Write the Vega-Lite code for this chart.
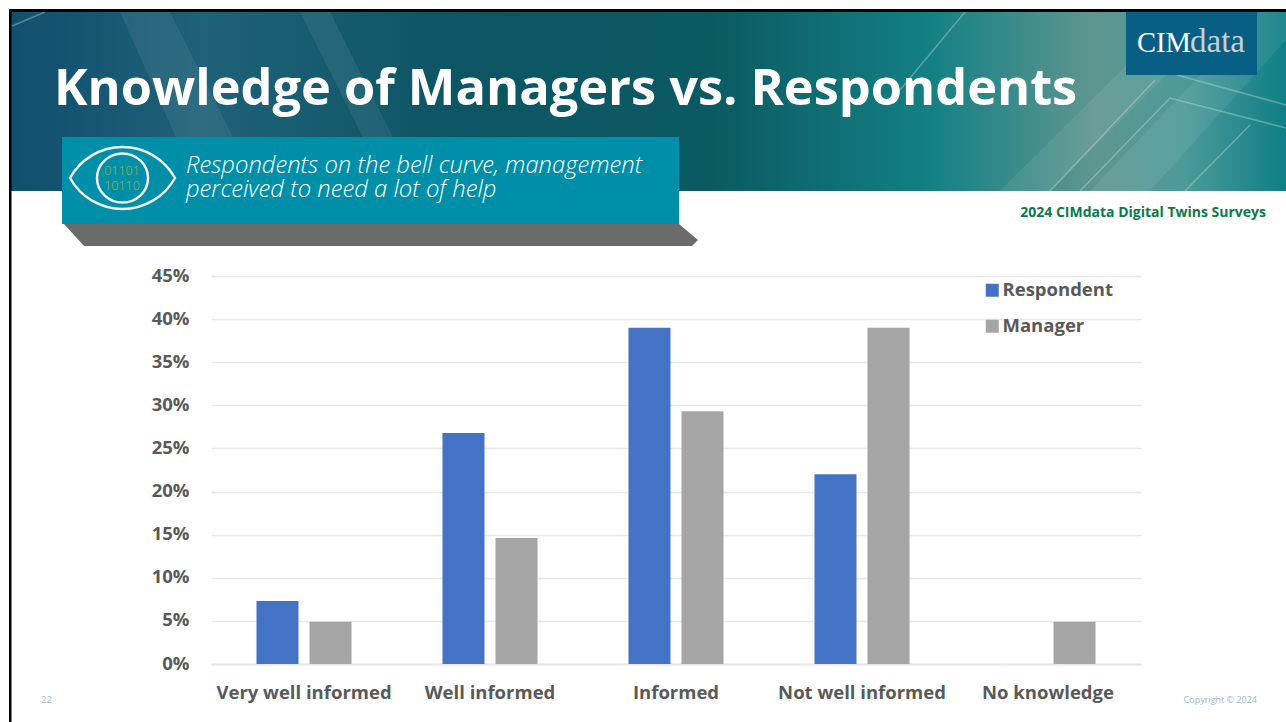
{
"$schema":"https://vega.github.io/schema/vega-lite/v6.json",
"width":930,"height":388,
"autosize":"none",
"padding":{"left":211,"top":276,"right":145,"bottom":58},
"background":"#ffffff",
"title":{"text":"Knowledge of Managers vs. Respondents","anchor":"start","frame":"group","dx":-157,"offset":-146,"baseline":"alphabetic","font":"Open Sans","fontSize":50.5,"fontWeight":700,"color":"#ffffff"},
"config":{"view":{"stroke":null},"font":"Open Sans"},
"layer":[
{"data":{"values":[{"part":"banner"}]},"mark":{"type":"point","filled":true,"opacity":1,"x":-211,"y":-276,"size":4,"shape":"M11,12H1286V191H11Z","fill":{"gradient":"linear","x1":0,"y1":0,"x2":1,"y2":0,"stops":[{"offset":0,"color":"#114f6e"},{"offset":0.15,"color":"#1f6178"},{"offset":0.35,"color":"#0c5564"},{"offset":0.55,"color":"#0b5a62"},{"offset":0.72,"color":"#138084"},{"offset":0.85,"color":"#5f968f"},{"offset":0.92,"color":"#4d9a9a"},{"offset":1,"color":"#0f7f86"}]}},"encoding":{}},
{"data":{"values":[{"part":"banner light bands"}]},"mark":{"type":"point","filled":true,"opacity":0.07,"x":-211,"y":-276,"size":4,"shape":"M1000,191L1180,12H1230L1050,191ZM1090,191L1260,12H1286V40L1150,191ZM120,12L200,191H260L170,12ZM300,12L390,191H420L330,12Z","fill":"#ffffff"},"encoding":{}},
{"data":{"values":[{"part":"banner lines"}]},"mark":{"type":"point","filled":false,"opacity":0.35,"x":-211,"y":-276,"size":4,"strokeWidth":1.5,"shape":"M1177,75L1286,105M1080,191L1170,98L1286,128M1050,191L1155,80M965,12L900,90M1185,191L1250,125M12,26L45,12","stroke":"#d8e8e4"},"encoding":{}},
{"data":{"values":[{"part":"border"}]},"mark":{"type":"point","filled":true,"opacity":1,"x":-211,"y":-276,"size":4,"shape":"M9,9H1286V12H11.5V722H9Z","fill":"#000000"},"encoding":{}},
{"data":{"values":[{"part":"logo box"}]},"mark":{"type":"point","filled":true,"opacity":1,"x":-211,"y":-276,"size":4,"shape":"M1126,12H1257V75H1126Z","fill":"#075f85"},"encoding":{}},
{"data":{"values":[{"part":"callout shadow"}]},"mark":{"type":"point","filled":true,"opacity":1,"x":-211,"y":-276,"size":4,"shape":"M64,224H679L698,240L692,246H84Z","fill":"#6b6b6b"},"encoding":{}},
{"data":{"values":[{"part":"callout"}]},"mark":{"type":"point","filled":true,"opacity":1,"x":-211,"y":-276,"size":4,"shape":"M62,137H679V224H62Z","fill":"#008fa8"},"encoding":{}},
{"data":{"values":[{"part":"eye"}]},"mark":{"type":"point","filled":false,"opacity":1,"x":-211,"y":-276,"size":4,"strokeWidth":2.5,"shape":"M70,178A60,60 0 0 1 175,178A60,60 0 0 1 70,178ZM97,178A25.5,24.5 0 1 1 148,178A25.5,24.5 0 1 1 97,178Z","stroke":"#f4f1ea"},"encoding":{}},
{"data":{"values":[{"label":"01101\n10110"}]},"mark":{"type":"text","x":-89,"y":-105,"align":"center","baseline":"middle","lineBreak":"\n","lineHeight":15,"font":"Open Sans","fontWeight":300,"fontSize":12.5,"color":"#a9b43c"},"encoding":{"text":{"field":"label"}}},
{"data":{"values":[{"label":"Respondents on the bell curve, management\nperceived to need a lot of help"}]},"mark":{"type":"text","x":-25,"y":-103,"align":"left","baseline":"alphabetic","lineBreak":"\n","lineHeight":24,"font":"Open Sans","fontStyle":"italic","fontWeight":300,"fontSize":23.8,"color":"#ffffff"},"encoding":{"text":{"field":"label"}}},
{"data":{"values":[{"label":"2024 CIMdata Digital Twins Surveys"}]},"mark":{"type":"text","x":1055,"y":-59,"align":"right","baseline":"alphabetic","font":"Open Sans","fontWeight":700,"fontSize":14,"color":"#0b7a4b"},"encoding":{"text":{"field":"label"}}},
{"data":{"values":[{"label":"CIM"}]},"mark":{"type":"text","x":926,"y":-224,"align":"left","baseline":"alphabetic","font":"Liberation Serif","fontSize":28.5,"color":"#ffffff"},"encoding":{"text":{"field":"label"}}},
{"data":{"values":[{"label":"data"}]},"mark":{"type":"text","x":979,"y":-224,"align":"left","baseline":"alphabetic","font":"Liberation Serif","fontSize":33,"color":"#c4d0d8"},"encoding":{"text":{"field":"label"}}},
{"data":{"values":[{"label":"22"}]},"mark":{"type":"text","x":-170,"y":427,"align":"left","baseline":"alphabetic","font":"Open Sans","fontWeight":400,"fontSize":9.5,"color":"#9db7cf"},"encoding":{"text":{"field":"label"}}},
{"data":{"values":[{"label":"Copyright © 2024"}]},"mark":{"type":"text","x":1046,"y":427,"align":"right","baseline":"alphabetic","font":"Open Sans","fontWeight":400,"fontSize":9,"color":"#9db7cf"},"encoding":{"text":{"field":"label"}}},
{"data":{"values":[
{"level":"Very well informed","group":"Respondent","share":0.073},
{"level":"Very well informed","group":"Manager","share":0.049},
{"level":"Well informed","group":"Respondent","share":0.268},
{"level":"Well informed","group":"Manager","share":0.146},
{"level":"Informed","group":"Respondent","share":0.39},
{"level":"Informed","group":"Manager","share":0.293},
{"level":"Not well informed","group":"Respondent","share":0.22},
{"level":"Not well informed","group":"Manager","share":0.39},
{"level":"No knowledge","group":"Respondent","share":0},
{"level":"No knowledge","group":"Manager","share":0.049}
]},
"mark":{"type":"bar"},
"encoding":{
"x":{"field":"level","type":"nominal","sort":["Very well informed","Well informed","Informed","Not well informed","No knowledge"],"scale":{"paddingInner":0,"paddingOuter":0},"axis":{"title":null,"labelAngle":0,"labelLimit":0,"ticks":false,"labelPadding":19,"labelFont":"Open Sans","labelFontSize":18.5,"labelFontWeight":700,"labelColor":"#595959","domain":true,"domainColor":"#e6e6e6","domainWidth":2,"grid":false}},
"xOffset":{"field":"group","type":"nominal","sort":["Respondent","Manager"],"scale":{"paddingInner":0.2075,"paddingOuter":0.858}},
"y":{"field":"share","type":"quantitative","scale":{"domain":[0,0.45],"nice":false},"axis":{"title":null,"values":[0,0.05,0.1,0.15,0.2,0.25,0.3,0.35,0.4,0.45],"format":".0%","ticks":false,"domain":false,"labelPadding":22,"labelOffset":-1,"labelFont":"Open Sans","labelFontSize":18.5,"labelFontWeight":700,"labelColor":"#595959","grid":true,"gridColor":"#e8e8e8","gridWidth":1.5}},
"color":{"field":"group","type":"nominal","sort":["Respondent","Manager"],"scale":{"domain":["Respondent","Manager"],"range":["#4472c4","#a5a5a5"]},"legend":{"title":null,"orient":"none","legendX":772,"legendY":5,"padding":0,"symbolType":"square","symbolSize":169,"symbolStrokeWidth":0,"symbolOpacity":1,"labelFont":"Open Sans","labelFontSize":18.5,"labelFontWeight":700,"labelColor":"#595959","labelOffset":1,"rowPadding":17}}
}}
]
}
